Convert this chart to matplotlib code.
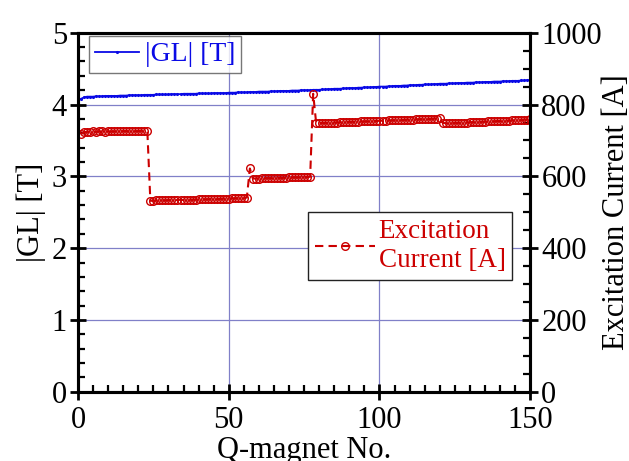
import numpy as np
import matplotlib.pyplot as plt
from matplotlib.ticker import MultipleLocator

plt.rcParams['font.family'] = ['Liberation Serif', 'DejaVu Serif']

# magnet numbers 1..150
magnet_no = np.arange(1, 151)

# |GL| [T] per magnet
gl = [4.08, 4.10, 4.11, 4.11, 4.11, 4.115, 4.115, 4.115, 4.12, 4.12,
      4.12, 4.12, 4.12, 4.125, 4.125, 4.125, 4.13, 4.13, 4.13, 4.13,
      4.13, 4.135, 4.135, 4.135, 4.135, 4.14, 4.14, 4.14, 4.14, 4.14,
      4.145, 4.145, 4.145, 4.145, 4.15, 4.15, 4.15, 4.15, 4.15, 4.155,
      4.155, 4.155, 4.155, 4.155, 4.16, 4.16, 4.16, 4.16, 4.16, 4.165,
      4.165, 4.165, 4.17, 4.17, 4.17, 4.17, 4.175, 4.175, 4.175, 4.18,
      4.18, 4.18, 4.18, 4.185, 4.185, 4.185, 4.19, 4.19, 4.19, 4.19,
      4.195, 4.195, 4.195, 4.20, 4.20, 4.20, 4.20, 4.205, 4.205, 4.205,
      4.21, 4.21, 4.215, 4.215, 4.22, 4.22, 4.22, 4.225, 4.225, 4.23,
      4.23, 4.23, 4.235, 4.235, 4.24, 4.24, 4.24, 4.245, 4.245, 4.25,
      4.25, 4.25, 4.255, 4.255, 4.26, 4.26, 4.26, 4.265, 4.265, 4.27,
      4.27, 4.27, 4.275, 4.275, 4.28, 4.28, 4.28, 4.285, 4.285, 4.29,
      4.29, 4.29, 4.295, 4.295, 4.295, 4.30, 4.30, 4.30, 4.305, 4.305,
      4.305, 4.31, 4.31, 4.31, 4.315, 4.315, 4.315, 4.32, 4.32, 4.32,
      4.325, 4.325, 4.325, 4.33, 4.33, 4.33, 4.335, 4.335, 4.34, 4.34]

# excitation current [A], by family of magnets
cur_q1 = [718, 723, 724, 724, 725, 724, 725, 725, 724, 725, 725, 725,
          726, 725, 726, 726, 725, 726, 726, 726, 727, 726, 726]
cur_q2 = [532, 532, 533, 533, 533, 533, 534, 534, 534, 534, 535, 534,
          535, 535, 535, 535, 536, 536, 536, 536, 537, 537, 537, 537,
          538, 538, 538, 539, 539, 539, 540, 540, 541]
cur_q3 = [622, 594, 594, 594, 595, 595, 595, 595, 596, 596, 596, 596,
          596, 597, 597, 597, 597, 598, 598, 598, 599]
cur_q4 = [830, 748, 748, 749, 749, 749, 750, 750, 750, 751, 751, 751,
          752, 752, 752, 752, 753, 753, 753, 754, 754, 754, 755, 755,
          755, 756, 756, 756, 757, 757, 757, 758, 758, 758, 759, 759,
          759, 760, 760, 760, 761, 761, 762]
cur_q5 = [749, 748, 748, 749, 749, 749, 750, 750, 750, 751, 751, 751,
          752, 752, 752, 753, 753, 753, 754, 754, 755, 755, 755, 756,
          756, 757, 757, 758, 758, 759]
current = cur_q1 + cur_q2 + cur_q3 + cur_q4 + cur_q5

blue = '#0a0ae6'
red = '#cc0000'
fs = 22

fig = plt.figure(figsize=(6.29, 4.61), dpi=100)
ax = fig.add_axes([0.124, 0.150, 0.719, 0.779])
ax2 = ax.twinx()

ax.plot(magnet_no, gl, color=blue, lw=1.3, marker='.', ms=2.5, label='|GL| [T]')
ax2.plot(magnet_no, current, color=red, lw=1.5, ls=(0, (4, 2.5)), marker='o',
         ms=5.5, mfc='none', mec=red, mew=1.0, label='Excitation\nCurrent [A]')

ax.set_xlim(0, 150)
ax.set_ylim(0, 5)
ax2.set_ylim(0, 1000)

ax.xaxis.set_major_locator(MultipleLocator(50))
ax.xaxis.set_minor_locator(MultipleLocator(5))
ax.yaxis.set_major_locator(MultipleLocator(1))
ax.yaxis.set_minor_locator(MultipleLocator(0.2))
ax2.yaxis.set_major_locator(MultipleLocator(200))
ax2.yaxis.set_minor_locator(MultipleLocator(50))

ax.grid(True, which='major', color='#8080c8', lw=0.9)
ax.set_axisbelow(True)

for a in (ax, ax2):
    for sp in a.spines.values():
        sp.set_linewidth(2.2)
    a.tick_params(which='major', direction='inout', length=12, width=2.0,
                  labelsize=fs, pad=2)
    a.tick_params(which='minor', direction='in', length=5, width=1.6)
ax.tick_params(axis='x', top=False, pad=4)

ax.set_xlabel('Q-magnet No.', fontsize=fs, labelpad=1)
ax.set_ylabel('|GL| [T]', fontsize=fs, labelpad=4)
ax2.set_ylabel('Excitation Current [A]', fontsize=fs, labelpad=0)

leg1 = ax.legend(loc='upper left', bbox_to_anchor=(0.025, 0.99), fontsize=20,
                 frameon=True, fancybox=False, edgecolor='#555555',
                 handlelength=1.6, handletextpad=0.2, borderpad=0.2,
                 borderaxespad=0)
leg1.get_frame().set_linewidth(1.0)
for t in leg1.get_texts():
    t.set_color(blue)

leg2 = ax2.legend(loc='upper left', bbox_to_anchor=(0.509, 0.50), fontsize=19.5,
                  frameon=True, fancybox=False, edgecolor='#222222',
                  handlelength=2.2, handletextpad=0.15, borderpad=0.25,
                  labelspacing=0.05, framealpha=1, borderaxespad=0)
leg2.get_frame().set_linewidth(1.0)
for t in leg2.get_texts():
    t.set_color(red)

fig.savefig('out.png', dpi=100)
